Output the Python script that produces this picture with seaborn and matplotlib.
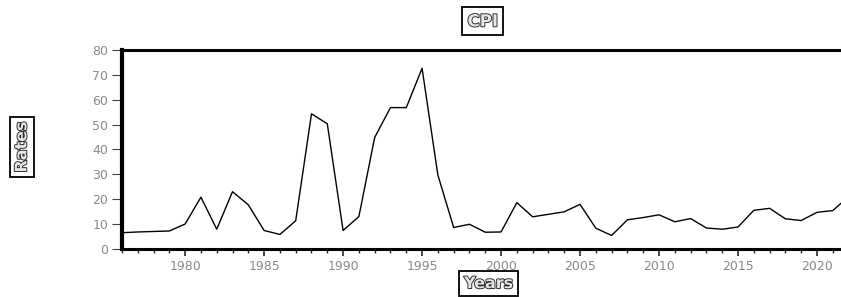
import matplotlib
matplotlib.use("Agg")
import matplotlib.pyplot as plt
import matplotlib.patheffects as pe
from matplotlib.ticker import MultipleLocator
import pandas as pd
import seaborn as sns

# CPI rates
years = list(range(1976, 2023))
cpi = [6.5, 6.8, 7.0, 7.2, 10.0, 20.8, 7.9, 23.0, 17.7, 7.4,
       5.8, 11.3, 54.3, 50.3, 7.4, 13.0, 44.8, 56.8, 56.8, 72.6,
       29.7, 8.6, 9.9, 6.7, 6.8, 18.6, 12.9, 13.9, 14.9, 17.9,
       8.3, 5.4, 11.7, 12.6, 13.7, 10.9, 12.2, 8.4, 7.9, 8.8,
       15.5, 16.3, 12.1, 11.4, 14.7, 15.4, 21.0]
y_ticks = [0, 10, 20, 30, 40, 50, 60, 70, 80]

data = pd.DataFrame({"Years": years, "CPI": cpi})

sns.set_style("white")
plt.rcParams["font.family"] = ["DejaVu Sans"]

fig = plt.figure(figsize=(8.41, 2.97), dpi=100)
ax = fig.add_axes([0.145, 0.162, 0.864, 0.670])

sns.lineplot(x="Years", y="CPI", data=data, color="black", linewidth=1.0, ax=ax)

ax.set_xlim(1976, 2022)
ax.set_ylim(0, 80)
ax.set_yticks(y_ticks)
ax.xaxis.set_major_locator(MultipleLocator(5))
ax.xaxis.set_minor_locator(MultipleLocator(1))
ax.tick_params(axis="x", which="major", direction="out", length=5, width=1.2,
               labelsize=9, labelcolor="#8a8a8a", pad=3, bottom=True)
ax.tick_params(axis="x", which="minor", direction="out", length=3, width=1.0, bottom=True)
ax.tick_params(axis="y", direction="out", length=7, width=0.8, color="#444444",
               labelsize=9, labelcolor="#8a8a8a", pad=3, left=True)

for side in ["top", "bottom"]:
    ax.spines[side].set_linewidth(2.2)
ax.spines["left"].set_linewidth(3.0)
for s in ax.spines.values():
    s.set_color("black")

ax.set_xlabel("")
ax.set_ylabel("")

box = dict(boxstyle="square,pad=0.3", facecolor="white", edgecolor="black", linewidth=1.3)
outline = [pe.withStroke(linewidth=1.3, foreground="#222222")]
fig.text(0.574, 0.928, "CPI", fontsize=12, fontweight="bold", color="#e6e6e6",
         ha="center", va="center", bbox=box, path_effects=outline)
fig.text(0.026, 0.505, "Rates", fontsize=11.5, fontweight="bold", color="#e6e6e6",
         rotation=90, ha="center", va="center", bbox=box, path_effects=outline)
fig.text(0.581, 0.045, "Years", fontsize=11.5, fontweight="bold", color="#e6e6e6",
         ha="center", va="center", bbox=box, path_effects=outline)

fig.savefig("out.png", dpi=100)
